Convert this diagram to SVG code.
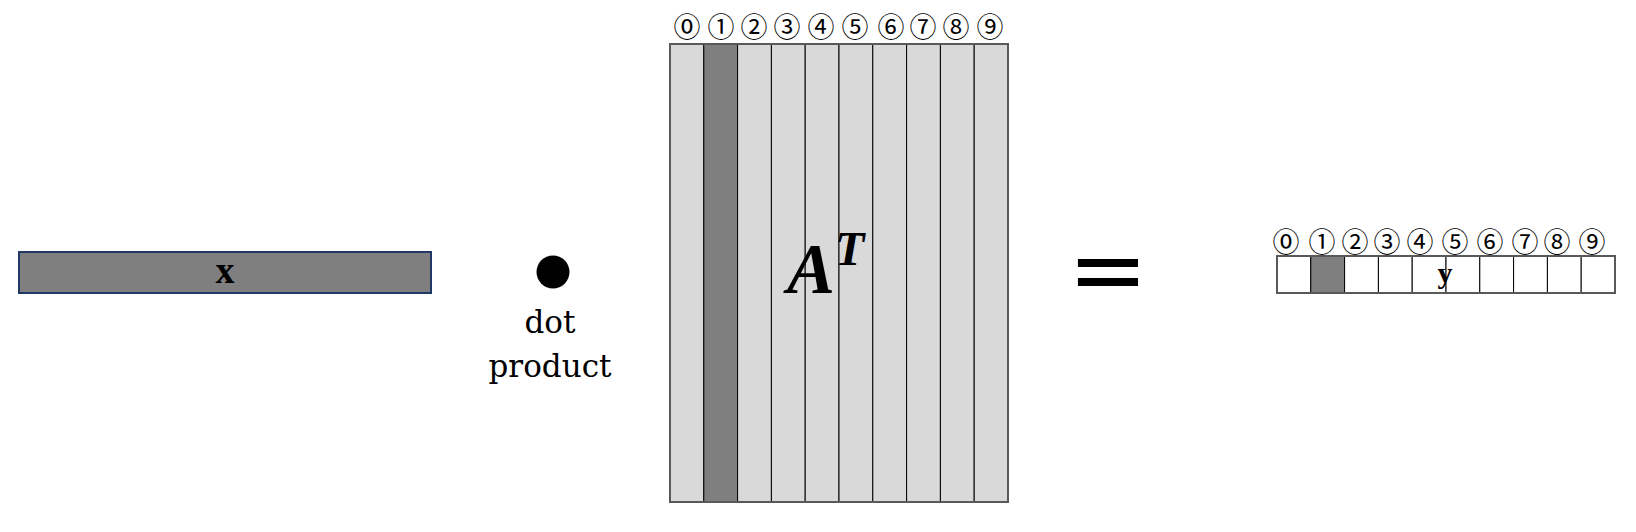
<svg xmlns="http://www.w3.org/2000/svg" width="1636" height="532" viewBox="0 0 1636 532">
<style>
.num{font-family:"Noto Sans CJK JP","DejaVu Sans",sans-serif;font-size:27px;fill:#000;text-anchor:middle}
.col{fill:#d9d9d9;stroke:#000;stroke-width:1}
.cell{fill:#fff;stroke:#000;stroke-width:1}
.dark{fill:#7f7f7f;stroke:#000;stroke-width:1}
.outer{fill:none;stroke:#595959;stroke-width:2}
.serif{font-family:"DejaVu Serif",serif;font-size:31px;fill:#000;text-anchor:middle}
.bold{font-family:"Liberation Serif",serif;font-weight:bold;fill:#000;text-anchor:middle}
</style>
<rect width="1636" height="532" fill="#fff"/>
<g id="vector-x">
<rect x="19" y="252" width="412" height="41" fill="#7f7f7f" stroke="#203864" stroke-width="2"/>
<text class="bold" x="225" y="283" font-size="38">x</text>
</g>
<g id="dot-product">
<circle cx="553" cy="272" r="16.5" fill="#000"/>
<text class="serif" x="550" y="333">dot</text>
<text class="serif" x="550" y="377">product</text>
</g>
<g id="matrix-AT">
<rect class="col" x="670" y="44" width="33.8" height="458"/>
<rect class="dark" x="703.8" y="44" width="33.8" height="458"/>
<rect class="col" x="737.6" y="44" width="33.8" height="458"/>
<rect class="col" x="771.4" y="44" width="33.8" height="458"/>
<rect class="col" x="805.2" y="44" width="33.8" height="458"/>
<rect class="col" x="839" y="44" width="33.8" height="458"/>
<rect class="col" x="872.8" y="44" width="33.8" height="458"/>
<rect class="col" x="906.6" y="44" width="33.8" height="458"/>
<rect class="col" x="940.4" y="44" width="33.8" height="458"/>
<rect class="col" x="974.2" y="44" width="33.8" height="458"/>
<rect class="outer" x="670" y="44" width="338" height="458"/>
<text class="num" x="687" y="37">⓪</text>
<text class="num" x="721" y="37">①</text>
<text class="num" x="754" y="37">②</text>
<text class="num" x="787" y="37">③</text>
<text class="num" x="821" y="37">④</text>
<text class="num" x="855" y="37">⑤</text>
<text class="num" x="891" y="37">⑥</text>
<text class="num" x="923" y="37">⑦</text>
<text class="num" x="956" y="37">⑧</text>
<text class="num" x="990" y="37">⑨</text>
<text x="787" y="293" font-family="Liberation Serif,serif" font-weight="bold" font-style="italic" font-size="72" fill="#000">A</text>
<text x="835" y="265" font-family="Liberation Serif,serif" font-weight="bold" font-style="italic" font-size="48" fill="#000">T</text>
</g>
<g id="equals">
<text x="1108" y="303" font-family="DejaVu Sans,sans-serif" font-size="96" text-anchor="middle" fill="#000">=</text>
</g>
<g id="vector-y">
<rect class="cell" x="1277" y="256" width="33.8" height="37"/>
<rect class="dark" x="1310.8" y="256" width="33.8" height="37"/>
<rect class="cell" x="1344.6" y="256" width="33.8" height="37"/>
<rect class="cell" x="1378.4" y="256" width="33.8" height="37"/>
<rect class="cell" x="1412.2" y="256" width="33.8" height="37"/>
<rect class="cell" x="1446" y="256" width="33.8" height="37"/>
<rect class="cell" x="1479.8" y="256" width="33.8" height="37"/>
<rect class="cell" x="1513.6" y="256" width="33.8" height="37"/>
<rect class="cell" x="1547.4" y="256" width="33.8" height="37"/>
<rect class="cell" x="1581.2" y="256" width="33.8" height="37"/>
<rect class="outer" x="1277" y="256" width="338" height="37"/>
<text class="num" x="1286" y="252">⓪</text>
<text class="num" x="1322" y="252">①</text>
<text class="num" x="1355" y="252">②</text>
<text class="num" x="1387" y="252">③</text>
<text class="num" x="1420" y="252">④</text>
<text class="num" x="1455" y="252">⑤</text>
<text class="num" x="1490" y="252">⑥</text>
<text class="num" x="1525" y="252">⑦</text>
<text class="num" x="1557" y="252">⑧</text>
<text class="num" x="1592" y="252">⑨</text>
<text class="bold" x="1445" y="283" font-size="30">y</text>
</g>
<g id="connectors"></g>
</svg>
